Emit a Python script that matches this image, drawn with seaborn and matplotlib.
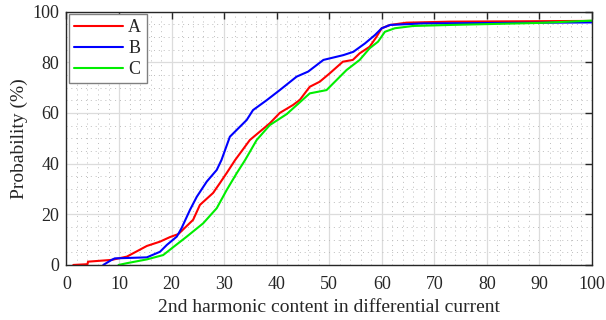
import matplotlib
matplotlib.use("Agg")
import matplotlib.pyplot as plt
import seaborn as sns
import numpy as np
import pandas as pd
from matplotlib.ticker import MultipleLocator

# Data (x: 2nd harmonic content, y: probability %)
a_x = [1.3, 4.0, 4.1, 8.6, 11.5, 15.3, 17.8, 19.7, 21.3, 22.5, 24.1, 25.4, 27.9, 29.2, 30.5, 32.1,
       34.9, 38.7, 40.6, 43.1, 44.4, 46.3, 48.2, 50.1, 52.6, 54.5, 55.8, 57.7, 59.0, 60.0, 61.6, 64.7, 73.0, 100.0]
a_y = [0.0, 0.3, 1.3, 2.0, 3.3, 7.5, 9.2, 11.0, 12.2, 14.6, 17.8, 23.7, 28.4, 32.3, 36.3, 41.4,
       49.3, 55.9, 60.0, 63.1, 65.1, 70.3, 72.3, 75.6, 80.2, 80.9, 83.5, 86.1, 90.0, 93.4, 94.7, 95.6, 96.0, 96.3]

b_x = [7.0, 8.6, 9.2, 15.3, 17.8, 19.1, 21.0, 21.9, 23.5, 24.8, 26.7, 28.6, 29.5, 31.1, 34.3, 35.5,
       38.1, 40.6, 43.8, 46.0, 48.9, 52.7, 54.6, 56.8, 58.7, 60.0, 61.6, 67.8, 100.0]
b_y = [0.0, 2.0, 2.6, 3.0, 5.2, 7.9, 11.2, 14.5, 21.7, 26.9, 32.9, 37.5, 41.4, 50.6, 57.2, 61.1,
       65.0, 69.0, 74.3, 76.3, 80.9, 82.8, 84.1, 87.4, 90.7, 93.4, 94.7, 95.3, 95.7]

c_x = [9.9, 11.5, 15.3, 18.4, 20.3, 22.9, 26.0, 28.6, 30.5, 32.4, 34.0, 36.2, 38.7, 41.9, 46.3, 49.5,
       53.3, 55.8, 57.7, 59.3, 60.6, 62.5, 66.0, 73.0, 90.0, 100.0]
c_y = [0.0, 0.7, 2.2, 3.9, 7.0, 11.2, 16.4, 22.4, 29.6, 36.2, 41.4, 49.3, 55.2, 59.5, 67.7, 69.0,
       76.9, 80.9, 85.5, 88.1, 92.0, 93.4, 94.3, 94.7, 95.5, 96.4]

labels = ["A", "B", "C"]
colors = ["#ff0000", "#0000ff", "#00ee00"]

frames = []
for lab, xs, ys in zip(labels, [a_x, b_x, c_x], [a_y, b_y, c_y]):
    frames.append(pd.DataFrame({"x": xs, "y": ys, "series": lab}))
df = pd.concat(frames, ignore_index=True)

sns.set_style("white")
plt.rcParams['font.family'] = ['Liberation Serif', 'DejaVu Serif']

fig = plt.figure(figsize=(6.06, 3.2), dpi=100)
ax = fig.add_axes([0.1097, 0.172, 0.867, 0.792])

sns.lineplot(data=df, x="x", y="y", hue="series", palette=dict(zip(labels, colors)),
             linewidth=1.5, sort=False, estimator=None, ax=ax)

ax.set_xlim(0, 100)
ax.set_ylim(0, 100)
ax.xaxis.set_major_locator(MultipleLocator(10))
ax.yaxis.set_major_locator(MultipleLocator(20))
ax.xaxis.set_minor_locator(MultipleLocator(2))
ax.yaxis.set_minor_locator(MultipleLocator(5))
ax.grid(True, which="major", color="#dcdcdc", linewidth=0.9, linestyle="-")
ax.grid(True, which="minor", color="#bdbdbd", linewidth=0.7, linestyle=(0, (1, 4)))
ax.set_axisbelow(True)

ax.tick_params(which="major", direction="in", length=5, width=1.0, top=True, right=True,
               labelsize=13, colors="#262626", pad=5)
ax.tick_params(axis="x", which="major", pad=8)
ax.tick_params(which="minor", length=0)
for s in ax.spines.values():
    s.set_visible(True)
    s.set_color("#262626")
    s.set_linewidth(1.0)

ax.set_xlabel("2nd harmonic content in differential current", fontsize=14, color="#262626", labelpad=4)
ax.set_ylabel("Probability (%)", fontsize=14, color="#262626", labelpad=3)

leg = ax.legend(loc="upper left", fontsize=13, handlelength=2.7, borderaxespad=0.12,
                frameon=True, fancybox=False, labelspacing=0.22, handletextpad=0.3,
                borderpad=0.3)
leg.get_frame().set_edgecolor("#808080")
leg.get_frame().set_linewidth(1.0)
leg.get_frame().set_alpha(1.0)
for t in leg.get_texts():
    t.set_color("#262626")

fig.savefig("out.png", dpi=100)
